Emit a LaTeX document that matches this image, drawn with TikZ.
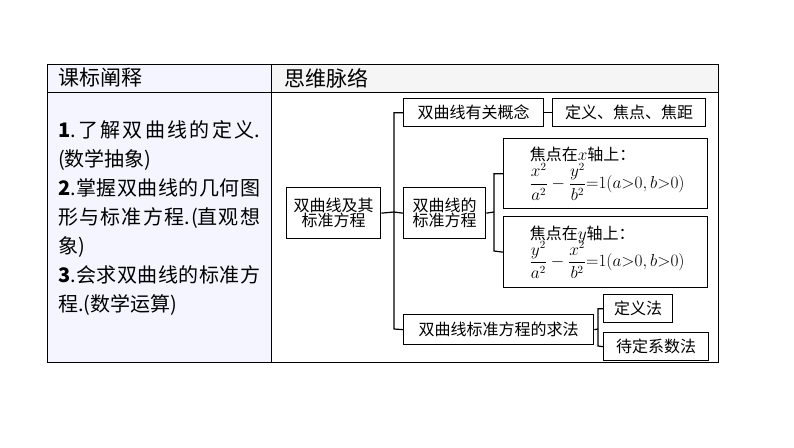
\documentclass[tikz,border=0pt]{standalone}
\usepackage{amsmath}
\usepackage{fontspec}
\setmainfont{Liberation Serif}
\newfontfamily\cjk{Noto Sans CJK SC}
\XeTeXlinebreaklocale "zh"
\XeTeXlinebreakskip=0pt plus 4pt
\begin{document}
\begin{tikzpicture}[x=1pt,y=-1pt,
 bx/.style={draw,line width=1.3pt,inner sep=0pt,anchor=north west,font=\cjk\fontsize{16}{18}\selectfont,align=center},
 ln/.style={line width=1.2pt}]
\useasboundingbox (0,0) rectangle (794,447);
\fill[white] (0,0) rectangle (794,447);
\fill[blue!4!white] (47,64) rectangle (271,362);
\fill[gray!8] (271,64) rectangle (718,92);
\draw[line width=1pt] (47,64) rectangle (718,362);
\draw[line width=1pt] (47,92) -- (718,92) (271,64) -- (271,362);
\node[anchor=west,font=\cjk\fontsize{21}{22}\selectfont] (h1) at (55,78) {课标阐释};
\node[anchor=west,font=\cjk\fontsize{21}{22}\selectfont] (h2) at (281,78) {思维脉络};
\node[anchor=north west,inner sep=0pt,text width=202pt,align=justify,font=\cjk\fontsize{20}{29}\selectfont] (lt) at (58,120)
 {\textbf{1}.了解双曲线的定义.(数学抽象)\\ \textbf{2}.掌握双曲线的几何图形与标准方程.(直观想象)\\ \textbf{3}.会求双曲线的标准方程.(数学运算)};
\node[bx,minimum width=94pt,minimum height=51pt] (root) at (286,187) {双曲线及其\\[-3pt]标准方程};
\node[bx,minimum width=140pt,minimum height=28pt] (gn) at (403,98) {双曲线有关概念};
\node[bx,minimum width=153pt,minimum height=28pt] (dy) at (552,98) {定义、焦点、焦距};
\node[bx,minimum width=82pt,minimum height=51pt] (bz) at (403,187) {双曲线的\\[-3pt]标准方程};
\node[bx,minimum width=204pt,minimum height=70pt,align=left] (xb) at (503,138) {\hspace*{3pt}\begin{tabular}{@{}l@{}}焦点在$x$轴上：\\[-3pt] $\dfrac{x^2}{a^2}-\dfrac{y^2}{b^2}{=}1(a{>}0,b{>}0)$\end{tabular}};
\node[bx,minimum width=204pt,minimum height=71pt,align=left] (yb) at (503,216) {\hspace*{3pt}\begin{tabular}{@{}l@{}}焦点在$y$轴上：\\[-3pt] $\dfrac{y^2}{a^2}-\dfrac{x^2}{b^2}{=}1(a{>}0,b{>}0)$\end{tabular}};
\node[bx,minimum width=190pt,minimum height=30pt] (qf) at (403,314) {双曲线标准方程的求法};
\node[bx,minimum width=69pt,minimum height=28pt] (d1) at (603,294) {定义法};
\node[bx,minimum width=105pt,minimum height=28pt] (d2) at (603,332) {待定系数法};
\draw[ln] (root.east) -- (394,212);
\draw[ln] (gn.west) -| (394,329) -- (qf.west);
\draw[ln] (394,212) -- (bz.west);
\draw[ln] (gn.east) -- (dy.west);
\draw[ln] (bz.east) -- (494,212);
\draw[ln] (xb.west) -| (494,251) -- (yb.west);
\draw[ln] (qf.east) -- (598,329);
\draw[ln] (d1.west) -| (598,346) -- (d2.west);
\end{tikzpicture}
\end{document}
